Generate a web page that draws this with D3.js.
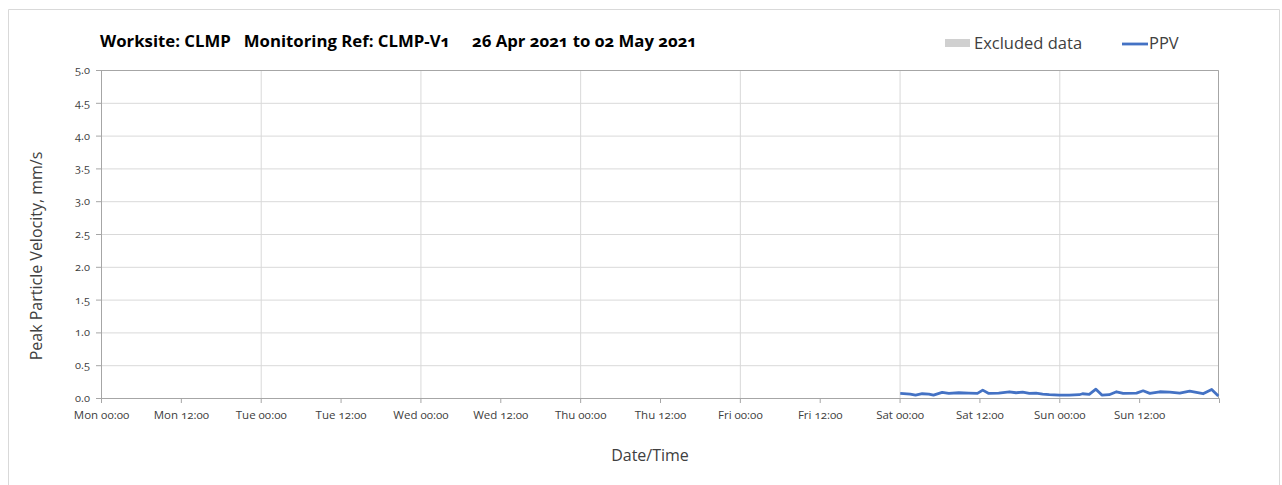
<!DOCTYPE html>
<html>
<head>
<meta charset="utf-8">
<script src="https://cdn.jsdelivr.net/npm/d3@7"></script>
<style>
  body { margin: 0; background: #fff; }
  svg text { font-family: "Open Sans", Lato, sans-serif; fill: #404040; font-variant-numeric: oldstyle-nums; }
  .grid line { stroke: #d9d9d9; }
  .grid path { display: none; }
</style>
</head>
<body>
<div id="canvas"></div>
<script>
const width = 1282;
const height = 485;
const margin = { top: 70, left: 101, bottom: 87, right: 63 };
const iwidth = width - margin.left - margin.right;
const iheight = height - margin.top - margin.bottom;

// data
const titleText = "Worksite: CLMP\u00a0\u00a0\u00a0Monitoring Ref: CLMP-V1\u00a0\u00a0\u00a0\u00a0\u00a026 Apr 2021 to 02 May 2021";
const yTicks = [0, 0.5, 1, 1.5, 2, 2.5, 3, 3.5, 4, 4.5, 5];
const xTickLabels = ["Mon 00:00", "Mon 12:00", "Tue 00:00", "Tue 12:00", "Wed 00:00", "Wed 12:00",
  "Thu 00:00", "Thu 12:00", "Fri 00:00", "Fri 12:00", "Sat 00:00", "Sat 12:00", "Sun 00:00", "Sun 12:00"];
// hours after Sat 01 May 2021 00:00
const ppvHours = [0.1, 1.6, 2.4, 3.4, 4.4, 5.1, 6.4, 7.4, 8.9, 10.4, 11.7, 12.5, 13.4, 14.9, 16.5, 17.5, 18.5,
  19.5, 20.5, 21.5, 22.5, 24, 25.5, 27, 27.5, 28.5, 29.5, 30.4, 31.5, 32.6, 33.6, 35.6, 36.6, 37.6, 39.1,
  40.6, 42.1, 43.6, 45.6, 46.9, 47.9];
const ppvValues = [0.07, 0.06, 0.045, 0.065, 0.06, 0.045, 0.085, 0.07, 0.08, 0.075, 0.07, 0.12, 0.07, 0.075,
  0.095, 0.08, 0.09, 0.07, 0.075, 0.06, 0.05, 0.045, 0.045, 0.05, 0.065, 0.055, 0.135, 0.045, 0.05, 0.095,
  0.07, 0.075, 0.11, 0.07, 0.095, 0.09, 0.075, 0.105, 0.065, 0.13, 0.03];

const start = new Date(2021, 3, 26, 0, 0);
const end = new Date(2021, 4, 3, 0, 0);
const satStart = new Date(2021, 4, 1, 0, 0);
const ppv = ppvHours.map((h, i) => ({ t: d3.timeMinute.offset(satStart, Math.round(h * 60)), v: ppvValues[i] }));
const xTickValues = xTickLabels.map((d, i) => d3.timeHour.offset(start, i * 12));

const svg = d3.select("#canvas").append("svg").attr("width", width).attr("height", height);

// outer frame
svg.append("path")
  .attr("d", `M8.5,${height} V9.5 H1279.5 V${height}`)
  .attr("fill", "none").attr("stroke", "#d9d9d9");

const g = svg.append("g").attr("transform", `translate(${margin.left},${margin.top})`);

const x = d3.scaleTime().domain([start, end]).range([0, iwidth]);
const y = d3.scaleLinear().domain([0, 5]).range([iheight, 0]);

// horizontal gridlines
g.append("g").attr("class", "grid")
  .call(d3.axisLeft(y).tickValues(yTicks).tickSize(-iwidth).tickFormat(""));
// vertical gridlines each day
g.append("g").attr("class", "grid")
  .attr("transform", `translate(0,${iheight})`)
  .call(d3.axisBottom(x).tickValues(d3.timeDay.range(start, end).slice(1)).tickSize(-iheight).tickFormat(""));

// plot border top/right
g.append("path").attr("d", `M0,0.5 H${iwidth - 0.5} V${iheight}`)
  .attr("fill", "none").attr("stroke", "#a6a6a6");

// y axis
const yAxis = g.append("g")
  .call(d3.axisLeft(y).tickValues(yTicks).tickSize(5).tickPadding(6).tickFormat(d3.format(".1f")));
yAxis.select(".domain").attr("stroke", "#a6a6a6");
yAxis.selectAll(".tick line").attr("stroke", "#a6a6a6");
yAxis.selectAll("text").style("font-size", "11px");

// x axis
const xAxis = g.append("g")
  .attr("transform", `translate(0,${iheight})`)
  .call(d3.axisBottom(x).tickValues(xTickValues).tickSize(5).tickPadding(8)
    .tickFormat((d, i) => xTickLabels[i]));
xAxis.select(".domain").attr("stroke", "#a6a6a6");
xAxis.selectAll(".tick line").attr("stroke", "#a6a6a6");
xAxis.selectAll("text").style("font-size", "11.5px");

// PPV line
g.append("path").datum(ppv)
  .attr("fill", "none")
  .attr("stroke", "#4472c4")
  .attr("stroke-width", 2.8)
  .attr("stroke-linejoin", "round")
  .attr("d", d3.line().x(d => x(d.t)).y(d => y(d.v)));

// title
svg.append("text")
  .attr("x", 100).attr("y", 47)
  .attr("textLength", 597).attr("lengthAdjust", "spacingAndGlyphs")
  .style("font-size", "16px").style("font-weight", "bold").style("fill", "#000")
  .text(titleText);

// legend
svg.append("rect").attr("x", 945).attr("y", 39).attr("width", 25).attr("height", 8).attr("fill", "#d0d0d0");
svg.append("text").attr("x", 974).attr("y", 49).style("font-size", "16.5px").text("Excluded data");
svg.append("line").attr("x1", 1122).attr("x2", 1148).attr("y1", 44).attr("y2", 44)
  .attr("stroke", "#4472c4").attr("stroke-width", 2.8);
svg.append("text").attr("x", 1149).attr("y", 49).style("font-size", "16.5px").text("PPV");

// axis titles
svg.append("text")
  .attr("transform", "translate(42,256) rotate(-90)")
  .attr("text-anchor", "middle")
  .style("font-size", "16px")
  .text("Peak Particle Velocity, mm/s");
svg.append("text")
  .attr("x", 650).attr("y", 461)
  .attr("text-anchor", "middle")
  .style("font-size", "16px")
  .text("Date/Time");
</script>
</body>
</html>
